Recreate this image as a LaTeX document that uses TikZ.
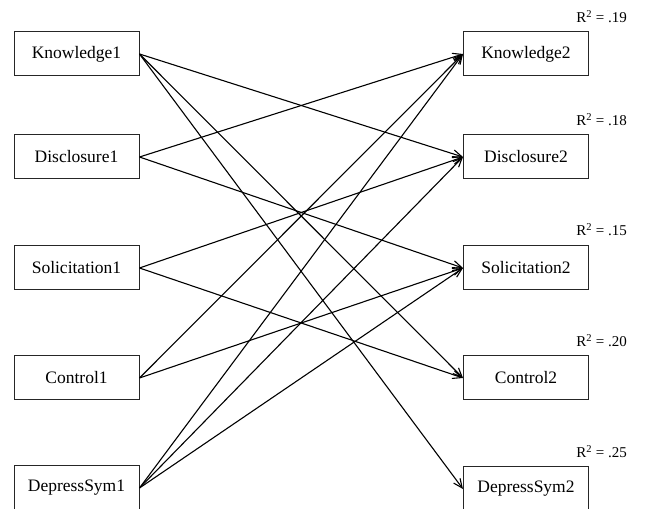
\documentclass[tikz,border=0pt]{standalone}
\usepackage{fontspec}
\setmainfont{Liberation Serif}
\usetikzlibrary{arrows.meta}
\begin{document}
\begin{tikzpicture}[x=1pt,y=1pt,
  var/.style={draw=black!85,line width=1pt,minimum width=125pt,minimum height=44pt,inner sep=0pt,
    font=\fontsize{17.5}{20}\selectfont},
  rsq/.style={anchor=east,inner sep=0pt,font=\fontsize{15}{18}\selectfont},
  path/.style={line width=1.1pt,-{Straight Barb[length=9pt,width=8pt,line width=1.1pt]}}]
\useasboundingbox (0,0) rectangle (646,509);
% left column
\node[var] (k1) at (76.5,509-54) {Knowledge1};
\node[var] (d1) at (76.5,509-157) {Disclosure1};
\node[var] (s1) at (76.5,509-268) {Solicitation1};
\node[var] (c1) at (76.5,509-378) {Control1};
\node[var] (p1) at (76.5,509-488) {DepressSym1};
% right column
\node[var] (k2) at (526,509-54) {Knowledge2};
\node[var] (d2) at (526,509-157) {Disclosure2};
\node[var] (s2) at (526,509-268) {Solicitation2};
\node[var] (c2) at (526,509-378) {Control2};
\node[var] (p2) at (526,509-489) {DepressSym2};
% R squared
\node[rsq] (rk) at (627,509-17) {R\textsuperscript{2} = .19};
\node[rsq] (rd) at (627,509-120) {R\textsuperscript{2} = .18};
\node[rsq] (rs) at (627,509-230) {R\textsuperscript{2} = .15};
\node[rsq] (rc) at (627,509-341) {R\textsuperscript{2} = .20};
\node[rsq] (rp) at (627,509-452) {R\textsuperscript{2} = .25};
% paths
\draw[path] (k1.east) -- (d2.west);
\draw[path] (k1.east) -- (c2.west);
\draw[path] (k1.east) -- (p2.west);
\draw[path] (d1.east) -- (k2.west);
\draw[path] (d1.east) -- (s2.west);
\draw[path] (s1.east) -- (d2.west);
\draw[path] (s1.east) -- (c2.west);
\draw[path] (c1.east) -- (k2.west);
\draw[path] (c1.east) -- (s2.west);
\draw[path] (p1.east) -- (k2.west);
\draw[path] (p1.east) -- (d2.west);
\draw[path] (p1.east) -- (s2.west);
\end{tikzpicture}
\end{document}
